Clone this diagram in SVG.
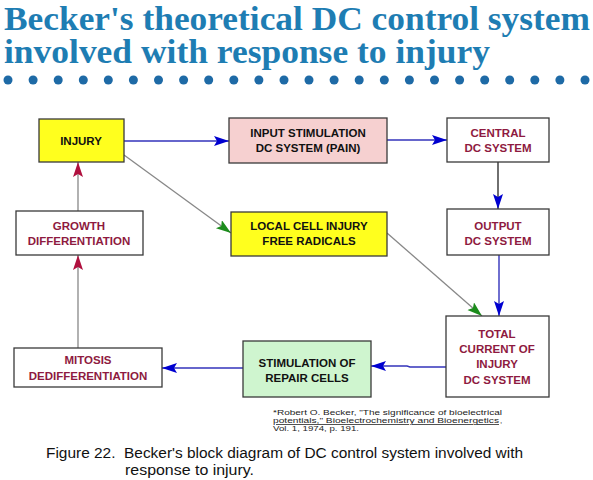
<svg xmlns="http://www.w3.org/2000/svg" width="593" height="480" viewBox="0 0 593 480">
<defs>
<style>
.title{font-family:"Liberation Serif","Times New Roman",serif;font-weight:bold;font-size:33px;fill:#1e7db3}
.box{stroke:#3a3a3a;stroke-width:1.3}
.lbl{font-family:"Liberation Sans",Arial,sans-serif;font-weight:bold;font-size:11.5px;text-anchor:middle}
.dark{fill:#111}
.red{fill:#8e1a40}
.blue{stroke:#3333bb;stroke-width:1.4;fill:none}
.gray{stroke:#888;stroke-width:1.3;fill:none}
.cap{font-family:"Liberation Sans",Arial,sans-serif;font-size:15.5px;fill:#111;white-space:pre}
.fn{font-family:"Liberation Sans",Arial,sans-serif;font-size:7.8px;fill:#222}
.dot{fill:#1e6aa6}
</style>
<marker id="aB" markerUnits="userSpaceOnUse" markerWidth="16" markerHeight="12" refX="15" refY="5" orient="auto"><path d="M0,0 L15,5 L0,10 L3,5 Z" fill="#0000d0"/></marker>
<marker id="aG" markerUnits="userSpaceOnUse" markerWidth="16" markerHeight="12" refX="15" refY="5" orient="auto"><path d="M0,0 L15,5 L0,10 L3,5 Z" fill="#1c8c1c"/></marker>
<marker id="aR" markerUnits="userSpaceOnUse" markerWidth="16" markerHeight="12" refX="15" refY="5" orient="auto"><path d="M0,0 L15,5 L0,10 L3,5 Z" fill="#b0103e"/></marker>
</defs>
<rect width="593" height="480" fill="#ffffff"/>
<g id="title">
<text class="title" x="4" y="30" textLength="586" lengthAdjust="spacingAndGlyphs">Becker's theoretical DC control system</text>
<text class="title" x="4" y="63" textLength="486" lengthAdjust="spacingAndGlyphs">involved with response to injury</text>
<g id="dots">
<circle class="dot" cx="8" cy="80" r="4.5"/><circle class="dot" cx="33.1" cy="80" r="4.5"/><circle class="dot" cx="58.2" cy="80" r="4.5"/><circle class="dot" cx="83.3" cy="80" r="4.5"/><circle class="dot" cx="108.3" cy="80" r="4.5"/><circle class="dot" cx="133.4" cy="80" r="4.5"/><circle class="dot" cx="158.5" cy="80" r="4.5"/><circle class="dot" cx="183.6" cy="80" r="4.5"/><circle class="dot" cx="208.7" cy="80" r="4.5"/><circle class="dot" cx="233.8" cy="80" r="4.5"/><circle class="dot" cx="258.9" cy="80" r="4.5"/><circle class="dot" cx="284" cy="80" r="4.5"/><circle class="dot" cx="309" cy="80" r="4.5"/><circle class="dot" cx="334.1" cy="80" r="4.5"/><circle class="dot" cx="359.2" cy="80" r="4.5"/><circle class="dot" cx="384.3" cy="80" r="4.5"/><circle class="dot" cx="409.4" cy="80" r="4.5"/><circle class="dot" cx="434.5" cy="80" r="4.5"/><circle class="dot" cx="459.6" cy="80" r="4.5"/><circle class="dot" cx="484.7" cy="80" r="4.5"/><circle class="dot" cx="509.7" cy="80" r="4.5"/><circle class="dot" cx="534.8" cy="80" r="4.5"/><circle class="dot" cx="559.9" cy="80" r="4.5"/><circle class="dot" cx="585" cy="80" r="4.5"/>
</g>
</g>
<g id="connectors">
<path class="blue" d="M124,141 H229" marker-end="url(#aB)"/>
<path class="blue" d="M387,140 H447" marker-end="url(#aB)"/>
<path d="M498,162 V209" stroke="#222" stroke-width="1.3" fill="none" marker-end="url(#aB)"/>
<path class="blue" d="M499,255 V316" marker-end="url(#aB)"/>
<path class="gray" d="M124,155 L231,233" marker-end="url(#aG)"/>
<path class="gray" d="M387,233 L482,316" marker-end="url(#aG)"/>
<path class="blue" d="M446,367 H410 L407,366 H371" marker-end="url(#aB)"/>
<path class="blue" d="M243,368 H162" marker-end="url(#aB)"/>
<path class="gray" d="M78,348 V255" marker-end="url(#aR)"/>
<path class="gray" d="M78,211 V162" marker-end="url(#aR)"/>
</g>
<g id="injury"><rect class="box" x="39" y="119" width="85" height="43" fill="#ffff1e"/><text class="lbl dark" x="81" y="145">INJURY</text></g>
<g id="input"><rect class="box" x="229" y="118" width="158" height="45" fill="#f6d0d0"/><text class="lbl dark" x="308" y="137">INPUT STIMULATION</text><text class="lbl dark" x="308" y="152">DC SYSTEM (PAIN)</text></g>
<g id="central"><rect class="box" x="447" y="118" width="102" height="44" fill="#fff"/><text class="lbl red" x="498" y="137">CENTRAL</text><text class="lbl red" x="498" y="152">DC SYSTEM</text></g>
<g id="output"><rect class="box" x="447" y="209" width="102" height="46" fill="#fff"/><text class="lbl red" x="498" y="230">OUTPUT</text><text class="lbl red" x="498" y="245">DC SYSTEM</text></g>
<g id="local"><rect class="box" x="231" y="212" width="156" height="44" fill="#ffff1e"/><text class="lbl dark" x="309" y="230">LOCAL CELL INJURY</text><text class="lbl dark" x="309" y="245">FREE RADICALS</text></g>
<g id="growth"><rect class="box" x="16" y="211" width="127" height="44" fill="#fff"/><text class="lbl red" x="79" y="230">GROWTH</text><text class="lbl red" x="79" y="245">DIFFERENTIATION</text></g>
<g id="mitosis"><rect class="box" x="14" y="348" width="148" height="39" fill="#fff"/><text class="lbl red" x="88" y="364">MITOSIS</text><text class="lbl red" x="88" y="380">DEDIFFERENTIATION</text></g>
<g id="stimulation"><rect class="box" x="243" y="341" width="128" height="56" fill="#cff5cf"/><text class="lbl dark" x="307" y="367">STIMULATION OF</text><text class="lbl dark" x="307" y="382">REPAIR CELLS</text></g>
<g id="total"><rect class="box" x="446" y="316" width="103" height="81" fill="#fff"/><text class="lbl red" x="497" y="338">TOTAL</text><text class="lbl red" x="497" y="353">CURRENT OF</text><text class="lbl red" x="497" y="368">INJURY</text><text class="lbl red" x="497" y="384">DC SYSTEM</text></g>
<g id="footnote">
<text class="fn" x="273" y="415" textLength="229" lengthAdjust="spacingAndGlyphs">*Robert O. Becker, "The significance of bioelectrical</text>
<text class="fn" x="273" y="423" textLength="226" lengthAdjust="spacingAndGlyphs" text-decoration="underline">potentials," Bioelectrochemistry and Bioenergetics</text>
<text class="fn" x="500" y="423">,</text>
<text class="fn" x="273" y="431" textLength="86" lengthAdjust="spacingAndGlyphs">Vol. 1, 1974, p. 191.</text>
</g>
<g id="caption">
<text class="cap" x="46" y="458" textLength="477" lengthAdjust="spacingAndGlyphs">Figure 22.  Becker's block diagram of DC control system involved with</text>
<text class="cap" x="125" y="475" textLength="129" lengthAdjust="spacingAndGlyphs">response to injury.</text>
</g>
</svg>
